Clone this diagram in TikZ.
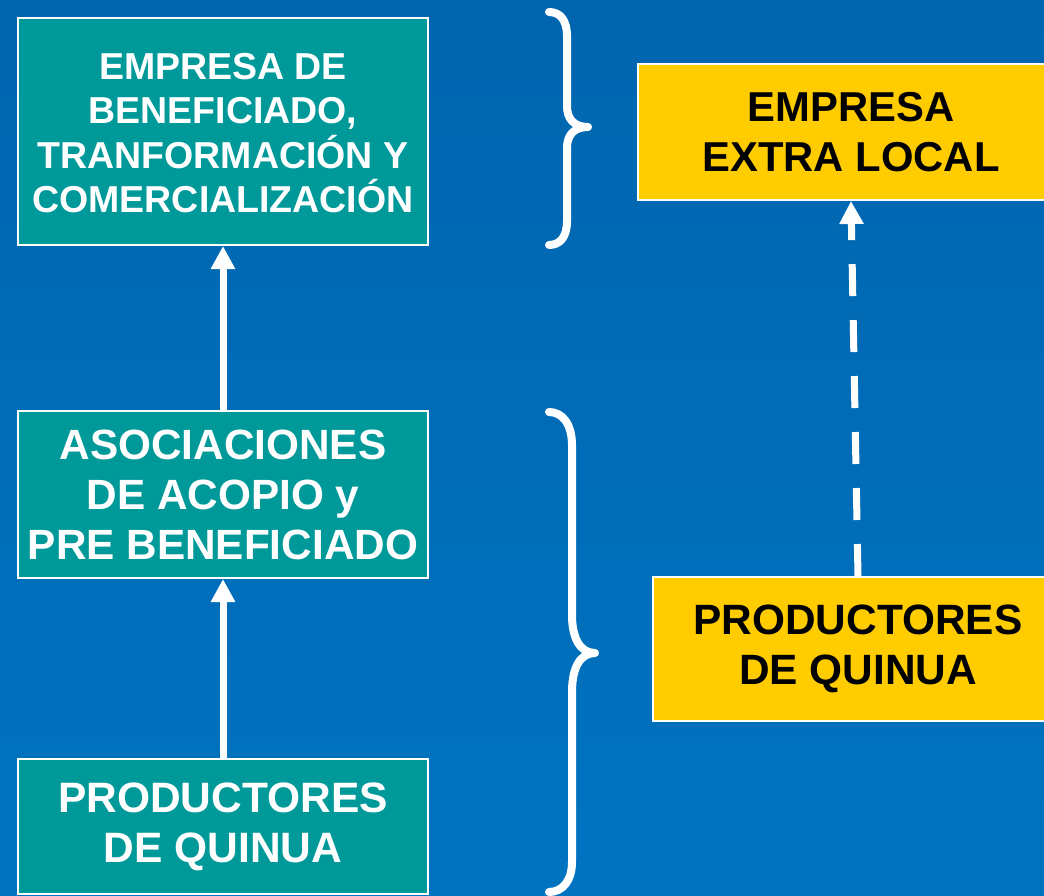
\documentclass[tikz,border=0pt]{standalone}
\usepackage{fontspec}
\setmainfont{Liberation Sans}
\usetikzlibrary{arrows.meta}
\definecolor{bgtop}{RGB}{0,101,175}
\definecolor{bgbot}{RGB}{0,115,192}
\definecolor{tealbox}{RGB}{0,153,153}
\definecolor{yellowbox}{RGB}{255,204,0}
\tikzset{
  tealnode/.style={draw=white, line width=2pt, fill=tealbox, text=white, align=center, inner sep=0pt},
  yellownode/.style={draw=white, line width=2pt, fill=yellowbox, text=black, align=center, inner sep=0pt},
  uparrow/.style={draw=white, line width=7pt, -{Triangle[width=23pt,length=23pt]}},
  dasharrow/.style={uparrow, dash pattern=on 32pt off 24pt},
  bracestyle/.style={draw=white, line width=8pt, line cap=round, line join=round}
}
\begin{document}
\begin{tikzpicture}[x=1pt,y=-1pt]
\useasboundingbox (0,0) rectangle (1044,896);
\shade[top color=bgtop, bottom color=bgbot] (0,0) rectangle (1044,896);

\node[tealnode, minimum width=410pt, minimum height=227pt, font=\fontsize{37.5}{44.5}\selectfont\bfseries] (b1) at (223,131.5)
  {\rule{0pt}{29pt}EMPRESA DE\\BENEFICIADO,\\TRANFORMACIÓN Y\\COMERCIALIZACIÓN};
\node[tealnode, minimum width=410pt, minimum height=167pt, font=\fontsize{42.3}{50}\selectfont\bfseries] (b2) at (223,494.5)
  {ASOCIACIONES\\DE ACOPIO y\\PRE BENEFICIADO};
\node[tealnode, minimum width=410pt, minimum height=135pt, font=\fontsize{42.5}{50}\selectfont\bfseries] (b3) at (223,826.5)
  {PRODUCTORES\\DE QUINUA};

\node[yellownode, minimum width=426pt, minimum height=136pt, font=\fontsize{41.8}{50}\selectfont\bfseries] (y1) at (851,132)
  {EMPRESA\\EXTRA LOCAL};
\node[yellownode, minimum width=410pt, minimum height=144pt, font=\fontsize{42.4}{50}\selectfont\bfseries] (y2) at (858,649)
  {PRODUCTORES\\DE QUINUA};

\draw[uparrow] (b3.north) -- (b2.south);
\draw[uparrow] (b2.north) -- (b1.south);
\draw[dasharrow] (y2.north) -- (y1.south);

% top brace
\coordinate (t1) at (549,12);
\coordinate (ttip) at (588,127);
\coordinate (t2) at (549,245);
\draw[bracestyle] (t1) .. controls (560,12) and (567,20) .. (567,36) -- (567,106)
  .. controls (567,119) and (574,127) .. (ttip)
  .. controls (574,127) and (567,135) .. (567,148) -- (567,221)
  .. controls (567,237) and (560,245) .. (t2);
% bottom brace
\coordinate (u1) at (549,412);
\coordinate (utip) at (595,653);
\coordinate (u2) at (549,892);
\draw[bracestyle] (u1) .. controls (563,412) and (572,425) .. (572,445) -- (572,615)
  .. controls (572,638) and (580,653) .. (utip)
  .. controls (580,653) and (572,668) .. (572,692) -- (572,862)
  .. controls (572,880) and (563,892) .. (u2);
\end{tikzpicture}
\end{document}
